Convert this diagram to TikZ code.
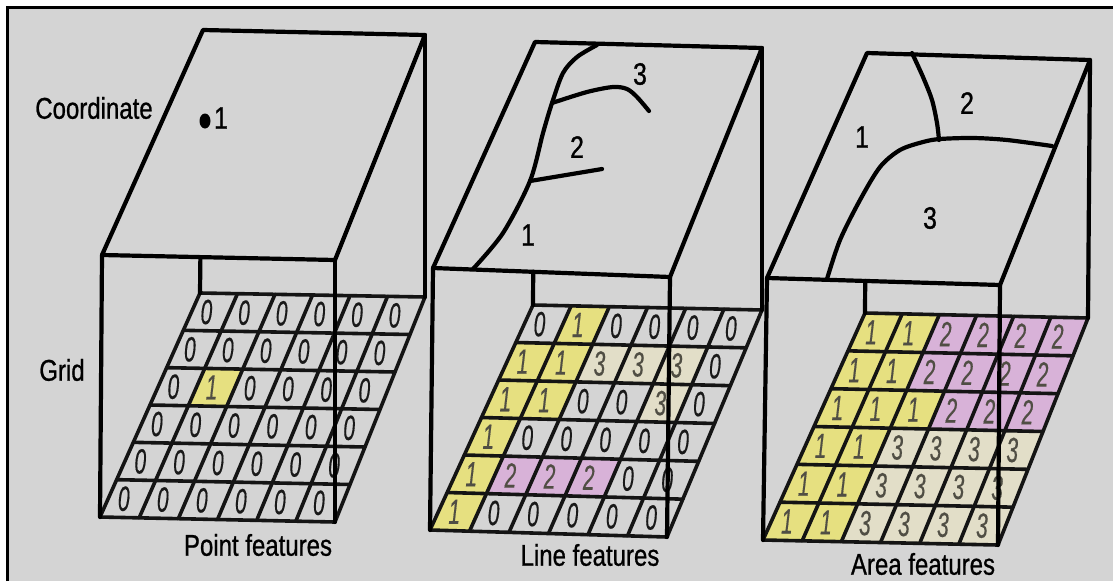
\documentclass[tikz,border=0pt]{standalone}
\usepackage{fontspec}
\setmainfont{Liberation Sans}
\newfontfamily\condfont[FakeStretch=0.8,FakeBold=0.8]{Liberation Sans}
\newfontfamily\digfont[FakeStretch=0.6,FakeBold=0.3]{Liberation Sans}
\usetikzlibrary{calc}
\definecolor{bggray}{RGB}{212,212,212}
\definecolor{cyel}{RGB}{230,224,128}
\definecolor{cpink}{RGB}{216,178,216}
\definecolor{ccream}{RGB}{226,222,200}
\definecolor{digdark}{RGB}{25,25,25}
\definecolor{digsoft}{RGB}{80,78,68}
\tikzset{
  edge/.style={line width=4.2pt, line join=round, line cap=round, draw=black},
  gridline/.style={line width=3.6pt, line cap=round, draw=black!92},
  lbl/.style={font=\condfont\fontsize{30}{30}\selectfont, inner sep=0pt},
  facenum/.style={font=\condfont\fontsize{31}{31}\selectfont, inner sep=0pt},
  digit/.style={font=\digfont\itshape\fontsize{35}{35}\selectfont, inner sep=0pt},
}
\newcommand\makegridpts[1]{%
  \foreach \i in {0,...,6}{\foreach \j in {0,...,6}{
    \coordinate (#1-\i-\j) at ($ ($(#1BL)!\i/6!(#1BR)$)!\j/6!($(#1TL)!\i/6!(#1TR)$) $);
  }}%
}
\newcommand\fillgridcells[2]{%
  \foreach \rowvals [count=\r] in {#2}{
    \foreach \v [count=\c] in \rowvals {
      \pgfmathtruncatemacro\ca{\c-1}
      \pgfmathtruncatemacro\jb{6-\r}
      \pgfmathtruncatemacro\jt{7-\r}
      \ifcase\v \def\cc{none}\or \def\cc{cyel}\or \def\cc{cpink}\or \def\cc{ccream}\fi
      \ifnum\v>0
        \fill[fill=\cc] (#1-\ca-\jb) -- (#1-\c-\jb) -- (#1-\c-\jt) -- (#1-\ca-\jt) -- cycle;
        \def\dc{digsoft}
      \else
        \def\dc{digdark}
      \fi
      \node[digit, text=\dc, xshift=-4pt] (#1-d-\r-\c) at ($(#1-\ca-\jb)!0.5!(#1-\c-\jt)$) {\v};
    }
  }%
  \foreach \k in {0,...,6}{
    \draw[gridline] (#1-\k-0) -- (#1-\k-6);
    \draw[gridline] (#1-0-\k) -- (#1-6-\k);
  }%
}
\newcommand\boxedges[1]{%
  \draw[edge] (#1tBL) -- (#1tBR) -- (#1tTR) -- (#1tTL) -- cycle;
  \draw[edge] (#1tBL) -- (#1BL);
  \draw[edge] (#1tBR) -- (#1BR);
  \draw[edge] (#1tTR) -- (#1TR);
  \coordinate (#1hid) at (intersection of #1tTL--#1TL and #1tBL--#1tBR);
  \draw[edge] (#1hid) -- (#1TL);
}
\begin{document}
\begin{tikzpicture}[x=1pt,y=-1pt]
\useasboundingbox (0,0) rectangle (1113,581);
\fill[white] (0,0) rectangle (1113,581);
\fill[bggray] (8,8) rectangle (1113,581);
\draw[line width=3pt] (7,581) -- (7,7) -- (1113,7);

% ---------- panel 1 ----------
\coordinate (AtBL) at (102,255);
\coordinate (AtBR) at (335,260);
\coordinate (AtTR) at (425,35);
\coordinate (AtTL) at (203,30);
\coordinate (ABL) at (100,517);
\coordinate (ABR) at (335,522);
\coordinate (ATR) at (425,297);
\coordinate (ATL) at (200,293);
\makegridpts{A}
\fillgridcells{A}{{0,0,0,0,0,0},{0,0,0,0,0,0},{0,1,0,0,0,0},{0,0,0,0,0,0},{0,0,0,0,0,0},{0,0,0,0,0,0}}
\boxedges{A}
\fill (205,121) ellipse [x radius=5.5, y radius=7.5];
\node[facenum] (a1) at (221,118) {1};

% ---------- panel 2 ----------
\coordinate (BtBL) at (433,268);
\coordinate (BtBR) at (670,277);
\coordinate (BtTR) at (762,48);
\coordinate (BtTL) at (535,42);
\coordinate (BBL) at (430,530);
\coordinate (BBR) at (667,537);
\coordinate (BTR) at (762,310);
\coordinate (BTL) at (533,305);
\makegridpts{B}
\fillgridcells{B}{{0,1,0,0,0,0},{1,1,3,3,3,0},{1,1,0,0,3,0},{1,0,0,0,0,0},{1,2,2,2,0,0},{1,0,0,0,0,0}}
\boxedges{B}
\draw[edge] plot[smooth] coordinates {(473,269) (503,233) (530,181) (543,133) (552,103) (563,73) (577,57) (597,45)};
\draw[edge] (530,181) -- (602,169);
\draw[edge] plot[smooth] coordinates {(552,103) (587,92) (613,87) (627,89) (637,97) (649,111)};
\node[facenum] (b3) at (640,74) {3};
\node[facenum] (b2) at (577,147) {2};
\node[facenum] (b1) at (528,235) {1};

% ---------- panel 3 ----------
\coordinate (CtBL) at (767,278);
\coordinate (CtBR) at (1000,285);
\coordinate (CtTR) at (1090,60);
\coordinate (CtTL) at (867,53);
\coordinate (CBL) at (763,540);
\coordinate (CBR) at (998,545);
\coordinate (CTR) at (1088,318);
\coordinate (CTL) at (865,313);
\makegridpts{C}
\fillgridcells{C}{{1,1,2,2,2,2},{1,1,2,2,2,2},{1,1,1,2,2,2},{1,1,3,3,3,3},{1,1,3,3,3,3},{1,1,3,3,3,3}}
\boxedges{C}
\draw[edge] plot[smooth] coordinates {(912,53) (923,77) (932,100) (937,123) (939,140)};
\draw[edge] plot[smooth] coordinates {(827,279) (840,240) (860,200) (880,167) (900,150) (923,142) (940,139) (973,138) (1007,140) (1052,146)};
\node[facenum] (c1) at (862,137) {1};
\node[facenum] (c2) at (967,103) {2};
\node[facenum] (c3) at (930,218) {3};

% ---------- labels ----------
\node[lbl] (coord) at (94,108) {Coordinate};
\node[lbl] (gridlbl) at (62,370) {Grid};
\node[lbl] (pf) at (258,545) {Point features};
\node[lbl] (lf) at (590,555) {Line features};
\node[lbl] (af) at (923,564) {Area features};
\end{tikzpicture}
\end{document}
